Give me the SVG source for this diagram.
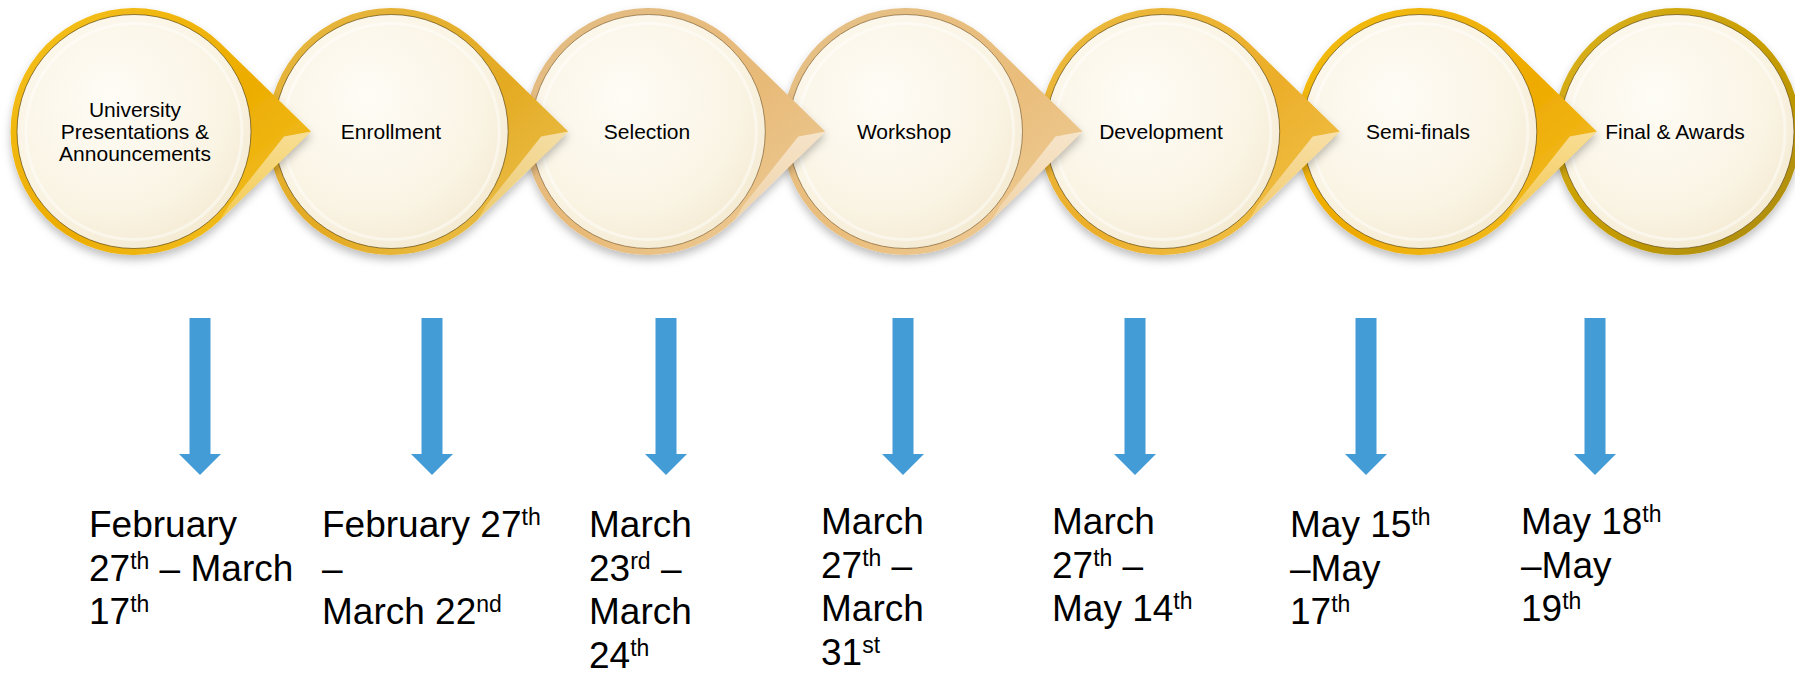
<svg xmlns="http://www.w3.org/2000/svg" xmlns:xlink="http://www.w3.org/1999/xlink" width="1795" height="673" viewBox="0 0 1795 673">
  <style>
    .lbl { font-family: "Liberation Sans", Arial, sans-serif; font-size: 21px; fill: #000; text-anchor: middle; }
    .date { font-family: "Liberation Sans", Arial, sans-serif; font-size: 37px; fill: #000; }
    .sup { font-size: 23px; }
    .face { fill: url(#faceGrad); stroke: #6b5316; stroke-opacity: .75; stroke-width: 1; }
    .face.tan { stroke: #8a6a3c; }
    .hl { fill: none; stroke: #ffffff; stroke-opacity: .45; stroke-width: 3; }
    .arrow { fill: #449cd6; }
  </style>
  <defs>
    <filter id="shadow" x="-20%" y="-20%" width="140%" height="150%">
      <feDropShadow dx="0" dy="5" stdDeviation="4" flood-color="#000" flood-opacity="0.25"/>
    </filter>
    <radialGradient id="faceGrad" cx="0.4" cy="0.35" r="0.7">
      <stop offset="0" stop-color="#fefcf6"/>
      <stop offset="0.7" stop-color="#faf4e4"/>
      <stop offset="1" stop-color="#f4ead2"/>
    </radialGradient>
    <linearGradient id="g1" x1="0" y1="0" x2="1" y2="1">
      <stop offset="0" stop-color="#f5c21e"/><stop offset="0.55" stop-color="#ecac00"/><stop offset="1" stop-color="#f3c632"/>
    </linearGradient>
    <linearGradient id="g2" x1="0" y1="0" x2="1" y2="1">
      <stop offset="0" stop-color="#e6b842"/><stop offset="0.55" stop-color="#e4aa22"/><stop offset="1" stop-color="#edc85a"/>
    </linearGradient>
    <linearGradient id="g3" x1="0" y1="0" x2="1" y2="1">
      <stop offset="0" stop-color="#e2bd86"/><stop offset="0.55" stop-color="#e8ba78"/><stop offset="1" stop-color="#edcf9e"/>
    </linearGradient>
    <linearGradient id="g4" x1="0" y1="0" x2="1" y2="1">
      <stop offset="0" stop-color="#e4c088"/><stop offset="0.55" stop-color="#eabd7a"/><stop offset="1" stop-color="#eed0a0"/>
    </linearGradient>
    <linearGradient id="g5" x1="0" y1="0" x2="1" y2="1">
      <stop offset="0" stop-color="#ebbb40"/><stop offset="0.55" stop-color="#ecae2a"/><stop offset="1" stop-color="#f1c852"/>
    </linearGradient>
    <linearGradient id="g6" x1="0" y1="0" x2="1" y2="1">
      <stop offset="0" stop-color="#f3be14"/><stop offset="0.55" stop-color="#eeaa00"/><stop offset="1" stop-color="#f3c432"/>
    </linearGradient>
    <linearGradient id="g7" x1="0" y1="0" x2="1" y2="1">
      <stop offset="0" stop-color="#dcb420"/><stop offset="0.5" stop-color="#c89e00"/><stop offset="1" stop-color="#a88a10"/>
    </linearGradient>
    <linearGradient id="bv" x1="0" y1="0" x2="0" y2="1">
      <stop offset="0" stop-color="#ffffff" stop-opacity="0.55"/>
      <stop offset="1" stop-color="#ffffff" stop-opacity="0.25"/>
    </linearGradient>
    <path id="drop" d="M86.2,-88.5 A123.5,123.5 0 1 0 86.2,88.5 L177,0 Z"/>
    <polygon id="bevel" points="177,0 150,5 95,74 86.2,88.5"/>
    <circle id="ring" r="123.5"/>
  </defs>

  <rect width="1795" height="673" fill="#ffffff"/>

  <g id="node-7">
    <use xlink:href="#ring" href="#ring" x="1677" y="131.5" fill="url(#g7)" filter="url(#shadow)"/>
    <circle class="face" cx="1677" cy="131.5" r="117"/>
    <circle class="hl" cx="1677" cy="131.5" r="108"/>
    <text class="lbl" x="1675" y="138.5">Final &amp; Awards</text>
  </g>
  <g id="node-6">
    <use xlink:href="#drop" href="#drop" x="1419.8" y="131.5" fill="url(#g6)" filter="url(#shadow)"/>
    <use xlink:href="#bevel" href="#bevel" x="1419.8" y="131.5" fill="url(#bv)"/>
    <circle class="face" cx="1419.8" cy="131.5" r="117"/>
    <circle class="hl" cx="1419.8" cy="131.5" r="108"/>
    <text class="lbl" x="1418" y="138.5">Semi-finals</text>
  </g>
  <g id="node-5">
    <use xlink:href="#drop" href="#drop" x="1162.7" y="131.5" fill="url(#g5)" filter="url(#shadow)"/>
    <use xlink:href="#bevel" href="#bevel" x="1162.7" y="131.5" fill="url(#bv)"/>
    <circle class="face" cx="1162.7" cy="131.5" r="117"/>
    <circle class="hl" cx="1162.7" cy="131.5" r="108"/>
    <text class="lbl" x="1161" y="138.5">Development</text>
  </g>
  <g id="node-4">
    <use xlink:href="#drop" href="#drop" x="905.5" y="131.5" fill="url(#g4)" filter="url(#shadow)"/>
    <use xlink:href="#bevel" href="#bevel" x="905.5" y="131.5" fill="url(#bv)"/>
    <circle class="face tan" cx="905.5" cy="131.5" r="117"/>
    <circle class="hl" cx="905.5" cy="131.5" r="108"/>
    <text class="lbl" x="904" y="138.5">Workshop</text>
  </g>
  <g id="node-3">
    <use xlink:href="#drop" href="#drop" x="648.3" y="131.5" fill="url(#g3)" filter="url(#shadow)"/>
    <use xlink:href="#bevel" href="#bevel" x="648.3" y="131.5" fill="url(#bv)"/>
    <circle class="face tan" cx="648.3" cy="131.5" r="117"/>
    <circle class="hl" cx="648.3" cy="131.5" r="108"/>
    <text class="lbl" x="647" y="138.5">Selection</text>
  </g>
  <g id="node-2">
    <use xlink:href="#drop" href="#drop" x="391.2" y="131.5" fill="url(#g2)" filter="url(#shadow)"/>
    <use xlink:href="#bevel" href="#bevel" x="391.2" y="131.5" fill="url(#bv)"/>
    <circle class="face" cx="391.2" cy="131.5" r="117"/>
    <circle class="hl" cx="391.2" cy="131.5" r="108"/>
    <text class="lbl" x="391" y="138.5">Enrollment</text>
  </g>
  <g id="node-1">
    <use xlink:href="#drop" href="#drop" x="134" y="131.5" fill="url(#g1)" filter="url(#shadow)"/>
    <use xlink:href="#bevel" href="#bevel" x="134" y="131.5" fill="url(#bv)"/>
    <circle class="face" cx="134" cy="131.5" r="117"/>
    <circle class="hl" cx="134" cy="131.5" r="108"/>
    <text class="lbl" x="135" y="116.5">University</text>
    <text class="lbl" x="135" y="138.5">Presentations &amp;</text>
    <text class="lbl" x="135" y="161">Announcements</text>
  </g>

  <g id="connectors">
    <polygon class="arrow" points="189.5,318 210.5,318 210.5,454 221,454 200,475 179,454 189.5,454"/>
    <polygon class="arrow" points="421.5,318 442.5,318 442.5,454 453,454 432,475 411,454 421.5,454"/>
    <polygon class="arrow" points="655.5,318 676.5,318 676.5,454 687,454 666,475 645,454 655.5,454"/>
    <polygon class="arrow" points="892.5,318 913.5,318 913.5,454 924,454 903,475 882,454 892.5,454"/>
    <polygon class="arrow" points="1124.5,318 1145.5,318 1145.5,454 1156,454 1135,475 1114,454 1124.5,454"/>
    <polygon class="arrow" points="1355.5,318 1376.5,318 1376.5,454 1387,454 1366,475 1345,454 1355.5,454"/>
    <polygon class="arrow" points="1584.5,318 1605.5,318 1605.5,454 1616,454 1595,475 1574,454 1584.5,454"/>
  </g>

  <g id="date-1">
    <text class="date" x="89" y="537">February</text>
    <text class="date" x="89" y="580.5">27<tspan class="sup" dy="-12">th</tspan><tspan dy="12"> – March</tspan></text>
    <text class="date" x="89" y="624">17<tspan class="sup" dy="-12">th</tspan></text>
  </g>
  <g id="date-2">
    <text class="date" x="322" y="537">February 27<tspan class="sup" dy="-12">th</tspan></text>
    <text class="date" x="322" y="580.5">–</text>
    <text class="date" x="322" y="624">March 22<tspan class="sup" dy="-12">nd</tspan></text>
  </g>
  <g id="date-3">
    <text class="date" x="589" y="537">March</text>
    <text class="date" x="589" y="580.5">23<tspan class="sup" dy="-12">rd</tspan><tspan dy="12"> –</tspan></text>
    <text class="date" x="589" y="624">March</text>
    <text class="date" x="589" y="667.5">24<tspan class="sup" dy="-12">th</tspan></text>
  </g>
  <g id="date-4">
    <text class="date" x="821" y="534">March</text>
    <text class="date" x="821" y="577.5">27<tspan class="sup" dy="-12">th</tspan><tspan dy="12"> –</tspan></text>
    <text class="date" x="821" y="621">March</text>
    <text class="date" x="821" y="664.5">31<tspan class="sup" dy="-12">st</tspan></text>
  </g>
  <g id="date-5">
    <text class="date" x="1052" y="534">March</text>
    <text class="date" x="1052" y="577.5">27<tspan class="sup" dy="-12">th</tspan><tspan dy="12"> –</tspan></text>
    <text class="date" x="1052" y="621">May 14<tspan class="sup" dy="-12">th</tspan></text>
  </g>
  <g id="date-6">
    <text class="date" x="1290" y="537">May 15<tspan class="sup" dy="-12">th</tspan></text>
    <text class="date" x="1290" y="580.5">–May</text>
    <text class="date" x="1290" y="624">17<tspan class="sup" dy="-12">th</tspan></text>
  </g>
  <g id="date-7">
    <text class="date" x="1521" y="534">May 18<tspan class="sup" dy="-12">th</tspan></text>
    <text class="date" x="1521" y="577.5">–May</text>
    <text class="date" x="1521" y="621">19<tspan class="sup" dy="-12">th</tspan></text>
  </g>
</svg>
